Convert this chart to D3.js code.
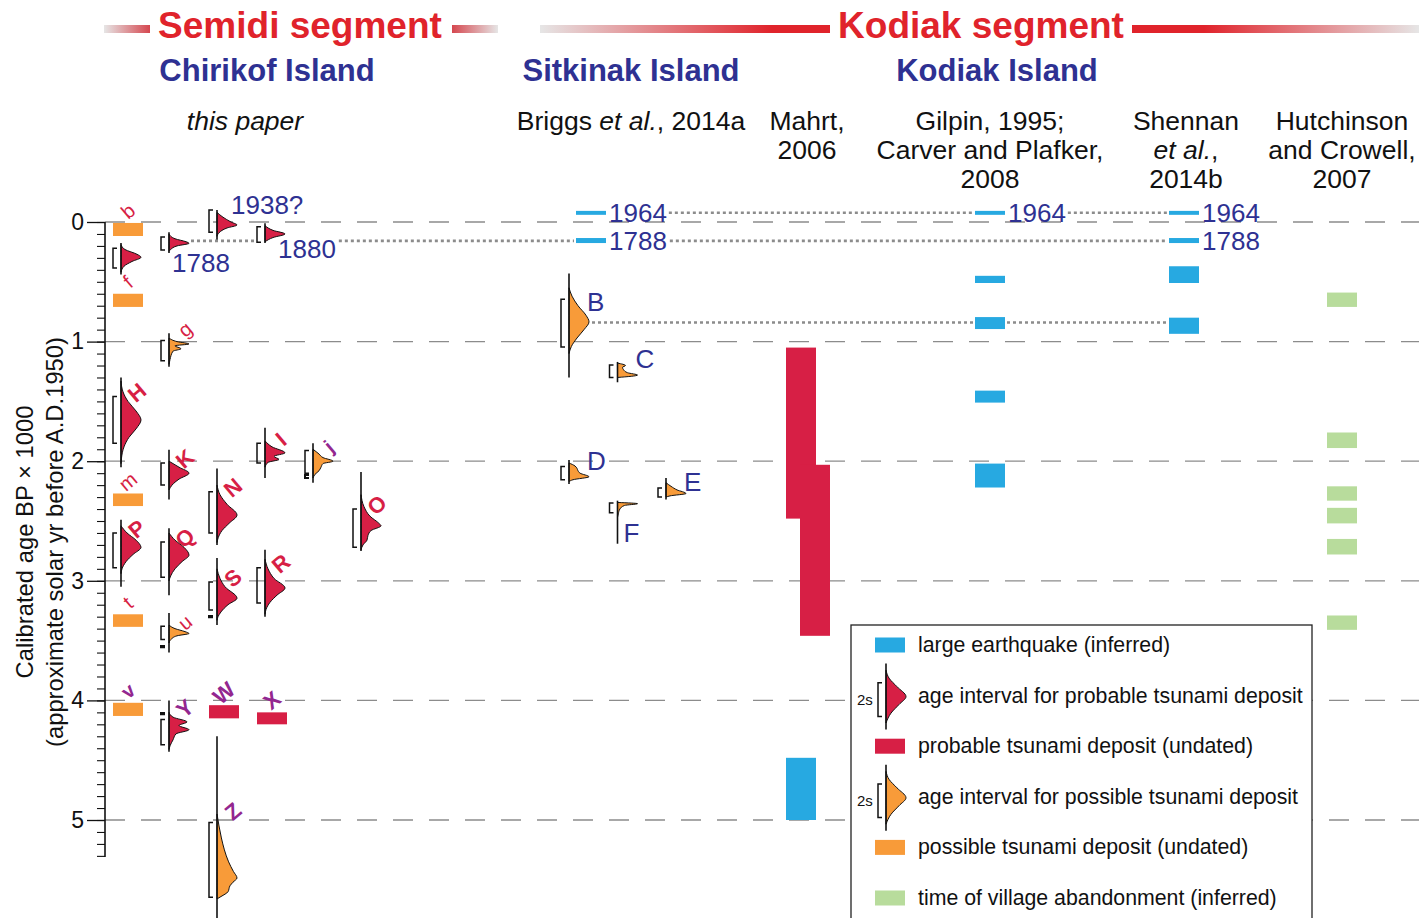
<!DOCTYPE html>
<html>
<head>
<meta charset="utf-8">
<script src="https://cdn.jsdelivr.net/npm/d3@7"></script>
<style>
  body { margin: 0; background: #fff; }
  svg { display: block; font-family: Arial, "Liberation Sans", sans-serif; }
</style>
</head>
<body>
<svg id="chart" width="1419" height="918"></svg>
<script>
// ---- data (ages in cal yr BP / 1000) ----
const ageTicks = [0, 1, 2, 3, 4, 5];
const minorTicks = d3.range(0, 54).map(i => i / 10);
const chirikofLanes = [0, 1, 2, 3, 4, 5];
const sitkinakLanes = [0, 1, 2];
const barColumns = ["briggs", "mahrt1", "mahrt2", "gilpin", "shennan", "hutchinson"];

const segmentNames = ["Semidi segment", "Kodiak segment"];
const islandNames = ["Chirikof Island", "Sitkinak Island", "Kodiak Island"];
const sources = [
  { col: "chirikof", lines: [[["this paper", true]]] },
  { col: "briggs", lines: [[["Briggs ", false], ["et al.", true], [", 2014a", false]]] },
  { col: "mahrt", lines: [[["Mahrt,", false]], [["2006", false]]] },
  { col: "gilpin", lines: [[["Gilpin, 1995;", false]], [["Carver and Plafker,", false]], [["2008", false]]] },
  { col: "shennan", lines: [[["Shennan", false]], [["et al.", true], [",", false]], [["2014b", false]]] },
  { col: "hutchinson", lines: [[["Hutchinson", false]], [["and Crowell,", false]], [["2007", false]]] }
];

// dated deposits, Chirikof Island: 2-sigma range, probability curve [age, relative density]
const chirikofDated = [
  { id: "", kind: "probable", lane: 0, span: [0.175, 0.44], range: [0.22, 0.385],
    pdf: [[0.19, 0], [0.23, 0.2], [0.27, 0.8], [0.295, 1], [0.33, 0.55], [0.37, 0.15], [0.42, 0]] },
  { id: "1788", kind: "probable", lane: 1, span: [0.085, 0.26], range: [0.125, 0.235],
    pdf: [[0.1, 0], [0.14, 0.3], [0.165, 0.85], [0.178, 1], [0.2, 0.4], [0.23, 0.08], [0.245, 0]] },
  { id: "1938?", kind: "probable", lane: 2, span: [-0.1, 0.15], range: [-0.1, 0.085],
    pdf: [[-0.08, 0], [-0.04, 0.3], [0, 0.7], [0.025, 1], [0.05, 0.5], [0.09, 0.1], [0.12, 0]] },
  { id: "1880", kind: "probable", lane: 3, span: [0.01, 0.175], range: [0.04, 0.17],
    pdf: [[0.03, 0], [0.07, 0.4], [0.1, 1], [0.13, 0.4], [0.165, 0]] },
  { id: "g", kind: "possible", lane: 1, span: [0.93, 1.21], range: [0.99, 1.16],
    pdf: [[0.97, 0], [1.0, 0.4], [1.02, 1], [1.035, 0.3], [1.06, 0.6], [1.08, 0.2], [1.15, 0.05], [1.19, 0]] },
  { id: "H", kind: "probable", lane: 0, span: [1.3, 2.05], range: [1.46, 1.85],
    pdf: [[1.33, 0], [1.42, 0.1], [1.5, 0.35], [1.58, 0.75], [1.655, 1], [1.73, 0.75], [1.8, 0.4], [1.88, 0.15], [1.98, 0.02], [2.02, 0]] },
  { id: "K", kind: "probable", lane: 1, span: [1.905, 2.32], range: [2.015, 2.2],
    pdf: [[2.0, 0], [2.05, 0.5], [2.1, 1], [2.15, 0.5], [2.2, 0.15], [2.24, 0]] },
  { id: "I", kind: "probable", lane: 3, span: [1.72, 2.14], range: [1.85, 2.015],
    pdf: [[1.83, 0], [1.88, 0.35], [1.93, 1], [1.96, 0.45], [1.985, 0.7], [2.01, 0.15], [2.05, 0]] },
  { id: "j", kind: "possible", lane: 4, span: [1.85, 2.18], range: [1.91, 2.1], extra: [2.115, 2.14],
    pdf: [[1.9, 0], [1.94, 0.3], [1.97, 0.5], [2.0, 1], [2.02, 0.5], [2.05, 0.4], [2.08, 0.3], [2.11, 0.1], [2.14, 0]] },
  { id: "N", kind: "probable", lane: 2, span: [2.06, 2.7], range: [2.255, 2.6],
    pdf: [[2.2, 0], [2.28, 0.15], [2.36, 0.5], [2.45, 1], [2.52, 0.6], [2.58, 0.25], [2.64, 0.06], [2.68, 0]] },
  { id: "O", kind: "probable", lane: 5, span: [2.09, 2.75], range: [2.4, 2.72],
    pdf: [[2.28, 0], [2.38, 0.15], [2.46, 0.45], [2.52, 0.9], [2.54, 1], [2.58, 0.5], [2.62, 0.35], [2.66, 0.3], [2.7, 0.1], [2.74, 0]] },
  { id: "P", kind: "probable", lane: 0, span: [2.49, 3.05], range: [2.6, 2.89],
    pdf: [[2.54, 0], [2.6, 0.3], [2.66, 0.75], [2.72, 1], [2.78, 0.6], [2.84, 0.25], [2.9, 0.05], [2.94, 0]] },
  { id: "Q", kind: "probable", lane: 1, span: [2.56, 3.12], range: [2.675, 2.97],
    pdf: [[2.6, 0], [2.66, 0.3], [2.72, 0.75], [2.785, 1], [2.84, 0.65], [2.9, 0.3], [2.96, 0.08], [3.0, 0]] },
  { id: "S", kind: "probable", lane: 2, span: [2.81, 3.37], range: [3.01, 3.245], extra: [3.295, 3.305],
    pdf: [[2.9, 0], [2.98, 0.15], [3.05, 0.4], [3.145, 1], [3.2, 0.55], [3.26, 0.2], [3.3, 0.05], [3.33, 0]] },
  { id: "R", kind: "probable", lane: 3, span: [2.74, 3.3], range: [2.89, 3.185],
    pdf: [[2.82, 0], [2.9, 0.15], [2.98, 0.45], [3.06, 1], [3.12, 0.6], [3.18, 0.25], [3.24, 0.05], [3.28, 0]] },
  { id: "u", kind: "possible", lane: 1, span: [3.27, 3.6], range: [3.38, 3.49], extra: [3.545, 3.555],
    pdf: [[3.37, 0], [3.4, 0.3], [3.425, 0.8], [3.44, 1], [3.46, 0.4], [3.49, 0.1], [3.52, 0]] },
  { id: "Y", kind: "probable", lane: 1, span: [4.0, 4.43], range: [4.16, 4.37], extra: [4.105, 4.115],
    pdf: [[4.1, 0], [4.14, 0.2], [4.18, 0.9], [4.21, 0.5], [4.245, 1], [4.28, 0.35], [4.33, 0.2], [4.38, 0.05], [4.41, 0]] },
  { id: "Z", kind: "possible", lane: 2, span: [4.3, 5.85], range: [5.02, 5.645],
    pdf: [[4.95, 0], [5.05, 0.1], [5.15, 0.22], [5.25, 0.37], [5.35, 0.58], [5.43, 0.82], [5.485, 1], [5.52, 0.8], [5.55, 0.65], [5.6, 0.55], [5.64, 0.2], [5.66, 0]] }
];

// undated deposits, Chirikof Island
const chirikofUndated = [
  { id: "b", kind: "possible", lane: 0, age: [0.008, 0.117] },
  { id: "f", kind: "possible", lane: 0, age: [0.6, 0.71] },
  { id: "m", kind: "possible", lane: 0, age: [2.27, 2.375] },
  { id: "t", kind: "possible", lane: 0, age: [3.28, 3.385] },
  { id: "v", kind: "possible", lane: 0, age: [4.02, 4.13] },
  { id: "W", kind: "probable", lane: 2, age: [4.04, 4.15] },
  { id: "X", kind: "probable", lane: 3, age: [4.1, 4.2] }
];

// dated deposits, Sitkinak Island (Briggs et al., 2014a)
const sitkinakDated = [
  { id: "B", lane: 0, span: [0.43, 1.3], range: [0.645, 1.045],
    pdf: [[0.55, 0], [0.62, 0.15], [0.7, 0.45], [0.78, 0.85], [0.835, 1], [0.9, 0.75], [0.97, 0.4], [1.04, 0.12], [1.1, 0]] },
  { id: "C", lane: 1, span: [1.17, 1.34], range: [1.195, 1.3],
    pdf: [[1.18, 0], [1.2, 0.4], [1.215, 0.25], [1.235, 0.3], [1.26, 0.5], [1.28, 1], [1.3, 0]] },
  { id: "D", lane: 0, span: [1.99, 2.19], range: [2.045, 2.155],
    pdf: [[2.015, 0], [2.04, 0.3], [2.06, 0.4], [2.08, 0.45], [2.1, 0.55], [2.13, 1], [2.155, 0.2], [2.17, 0]] },
  { id: "E", lane: 2, span: [2.14, 2.32], range: [2.225, 2.3],
    pdf: [[2.18, 0], [2.21, 0.25], [2.24, 0.55], [2.27, 1], [2.29, 0.2], [2.3, 0]] },
  { id: "F", lane: 1, span: [2.33, 2.69], range: [2.35, 2.43],
    pdf: [[2.345, 0], [2.355, 1], [2.37, 0.35], [2.4, 0.12], [2.44, 0.04], [2.47, 0]] }
];

const earthquakes = [
  { col: "briggs", age: [-0.093, -0.06], year: "1964" },
  { col: "briggs", age: [0.134, 0.176], year: "1788" },
  { col: "gilpin", age: [-0.093, -0.06], year: "1964" },
  { col: "gilpin", age: [0.45, 0.51] },
  { col: "gilpin", age: [0.795, 0.895] },
  { col: "gilpin", age: [1.41, 1.51] },
  { col: "gilpin", age: [2.02, 2.22] },
  { col: "shennan", age: [-0.093, -0.06], year: "1964" },
  { col: "shennan", age: [0.134, 0.176], year: "1788" },
  { col: "shennan", age: [0.37, 0.51] },
  { col: "shennan", age: [0.8, 0.935] },
  { col: "mahrt1", age: [4.48, 5.0] }
];
const kodiakDeposits = [
  { col: "mahrt1", age: [1.05, 2.48] },
  { col: "mahrt2", age: [2.03, 3.46] }
];
const abandonments = [[0.59, 0.71], [1.76, 1.89], [2.21, 2.33], [2.39, 2.52], [2.65, 2.78], [3.29, 3.41]];
const correlationAges = { "1964": -0.077, "1788": 0.158, "B": 0.84 };

const legendItems = [
  { type: "bar", kind: "quake", text: "large earthquake (inferred)" },
  { type: "pdf", kind: "probable", text: "age interval for probable tsunami deposit" },
  { type: "bar", kind: "probable", text: "probable tsunami deposit (undated)" },
  { type: "pdf", kind: "possible", text: "age interval for possible tsunami deposit" },
  { type: "bar", kind: "possible", text: "possible tsunami deposit (undated)" },
  { type: "bar", kind: "village", text: "time of village abandonment (inferred)" }
];
const legendPdf = [[0.1, 0], [0.22, 0.15], [0.35, 0.55], [0.5, 1], [0.62, 0.65], [0.75, 0.25], [0.9, 0]];

// ---- styles & scales ----
const colors = {
  probable: "#d71f45", possible: "#f89b39", quake: "#27a9e1", village: "#b8dc9c",
  navy: "#2e3192", header: "#e0232b", purple: "#93278f", grid: "#8c8c8c"
};
const purpleLabels = new Set(["j", "v", "W", "X", "Y", "Z"]);
const W = 1419, H = 918;
const svg = d3.select("#chart");

const y = d3.scaleLinear().domain([0, 5]).range([222, 820]);
const dens = d3.scaleLinear().domain([0, 1]).range([0, 20]);
const chirikofX = d3.scalePoint().domain(chirikofLanes).range([121, 361]);
const sitkinakX = d3.scalePoint().domain(sitkinakLanes).range([569, 666]);
const barX = d3.scaleOrdinal().domain(barColumns).range([591, 801, 815, 990, 1184, 1342]);
const headerX = { chirikof: 245, briggs: 631, mahrt: 807, gilpin: 990, shennan: 1186, hutchinson: 1342 };
const barW = 30;

// ---- header ----
const defs = svg.append("defs");
function grad(id, stops) {
  const g = defs.append("linearGradient").attr("id", id);
  stops.forEach(([o, c]) => g.append("stop").attr("offset", o).attr("stop-color", c));
}
grad("semL", [["0%", "#e6e6e6"], ["100%", "#d5474f"]]);
grad("semR", [["0%", "#d5474f"], ["100%", "#e6e6e6"]]);
grad("kodL", [["0%", "#e6e6e6"], ["80%", "#e0232b"], ["100%", "#e0232b"]]);
grad("kodR", [["0%", "#e0232b"], ["25%", "#e0232b"], ["100%", "#e6e6e6"]]);

const header = svg.append("g");
[[104, 150, "semL"], [452, 498, "semR"], [540, 830, "kodL"], [1132, 1419, "kodR"]].forEach(([a, b, id]) => {
  header.append("rect").attr("x", a).attr("y", 25).attr("width", b - a).attr("height", 8).attr("fill", `url(#${id})`);
});
[300, 981].forEach((cx, i) => {
  header.append("text").attr("x", cx).attr("y", 38).attr("text-anchor", "middle")
    .attr("font-size", 37).attr("font-weight", "bold").attr("fill", colors.header).text(segmentNames[i]);
});
[267, 631, 997].forEach((cx, i) => {
  header.append("text").attr("x", cx).attr("y", 81).attr("text-anchor", "middle")
    .attr("font-size", 31).attr("font-weight", "bold").attr("fill", colors.navy).text(islandNames[i]);
});
sources.forEach(s => {
  s.lines.forEach((parts, li) => {
    const t = header.append("text").attr("x", headerX[s.col]).attr("y", 130 + li * 29)
      .attr("text-anchor", "middle").attr("font-size", 26.5).attr("fill", "#111");
    parts.forEach(([txt, it]) => t.append("tspan").attr("font-style", it ? "italic" : "normal").text(txt));
  });
});

// ---- grid & axis ----
const grid = svg.append("g");
ageTicks.forEach(t => {
  grid.append("line").attr("x1", 105).attr("x2", W).attr("y1", y(t)).attr("y2", y(t))
    .attr("stroke", colors.grid).attr("stroke-width", 1.3).attr("stroke-dasharray", "20,16");
});
const axisG = svg.append("g").attr("transform", "translate(105,0)");
axisG.call(d3.axisLeft(y).tickValues(ageTicks).tickSize(18).tickSizeOuter(0).tickFormat(d3.format("d")));
axisG.select(".domain").remove();
axisG.selectAll("text").attr("font-size", 23).attr("font-family", "Arial, 'Liberation Sans', sans-serif").attr("fill", "#111").attr("x", -21);
axisG.selectAll("line").attr("stroke", "#111").attr("stroke-width", 1.3);
const minorG = svg.append("g").attr("transform", "translate(105,0)");
minorG.call(d3.axisLeft(y).tickValues(minorTicks).tickSize(8).tickFormat(""));
minorG.select(".domain").remove();
minorG.selectAll("line").attr("stroke", "#111").attr("stroke-width", 1.1);
svg.append("line").attr("x1", 105).attr("x2", 105).attr("y1", y(0)).attr("y2", y(5.31)).attr("stroke", "#111").attr("stroke-width", 1.6);

const yTitle = svg.append("g").attr("font-size", 23.8).attr("fill", "#111");
yTitle.append("text").attr("transform", "translate(33,542) rotate(-90)").attr("text-anchor", "middle").text("Calibrated age BP \u00d7 1000");
yTitle.append("text").attr("transform", "translate(63,542) rotate(-90)").attr("text-anchor", "middle").text("(approximate solar yr before A.D.1950)");

// ---- helpers ----
function drawPdf(g, d, x0, ys, fill) {
  const area = d3.area().curve(d3.curveMonotoneY)
    .y(p => ys(p[0])).x0(x0).x1(p => x0 + dens(p[1]));
  g.append("path").attr("d", area(d.pdf)).attr("fill", fill).attr("stroke", "#111").attr("stroke-width", 1);
  g.append("line").attr("x1", x0).attr("x2", x0).attr("y1", ys(d.span[0])).attr("y2", ys(d.span[1]))
    .attr("stroke", "#111").attr("stroke-width", 1.6);
  const bracket = r => `M${x0 - 4},${ys(r[0])}H${x0 - 8}V${ys(r[1])}H${x0 - 4}`;
  g.append("path").attr("d", bracket(d.range)).attr("fill", "none").attr("stroke", "#111").attr("stroke-width", 1.5);
  if (d.extra) {
    g.append("path").attr("d", bracket(d.extra)).attr("fill", "none").attr("stroke", "#111").attr("stroke-width", 2);
  }
}
function letter(g, txt, cx, cy) {
  const lower = txt === txt.toLowerCase();
  g.append("text").attr("transform", `translate(${cx},${cy}) rotate(-40)`)
    .attr("text-anchor", "middle").attr("dominant-baseline", "central")
    .attr("font-size", lower ? 20 : 22).attr("font-weight", lower && !purpleLabels.has(txt) ? "normal" : "bold")
    .attr("fill", purpleLabels.has(txt) ? colors.purple : colors.probable).text(txt);
}
function yearText(g, txt, x, yBase) {
  return g.append("text").attr("x", x).attr("y", yBase).attr("font-size", 26).attr("fill", colors.navy).text(txt);
}

// ---- Kodiak & Sitkinak bars ----
const bars = svg.append("g");
abandonments.forEach(a => {
  bars.append("rect").attr("x", barX("hutchinson") - barW / 2).attr("y", y(a[0]))
    .attr("width", barW).attr("height", y(a[1]) - y(a[0])).attr("fill", colors.village);
});
kodiakDeposits.forEach(d => {
  bars.append("rect").attr("x", barX(d.col) - barW / 2).attr("y", y(d.age[0]))
    .attr("width", barW).attr("height", y(d.age[1]) - y(d.age[0])).attr("fill", colors.probable);
});
const yearEnds = {};
earthquakes.forEach(d => {
  const x = barX(d.col) - barW / 2;
  bars.append("rect").attr("x", x).attr("y", y(d.age[0]))
    .attr("width", barW).attr("height", y(d.age[1]) - y(d.age[0])).attr("fill", colors.quake);
  if (d.year) {
    const t = yearText(bars, d.year, x + barW + 3, y((d.age[0] + d.age[1]) / 2) + 9);
    yearEnds[d.col + d.year] = x + barW + 3 + t.node().getComputedTextLength();
  }
});

// ---- Chirikof ----
const chir = svg.append("g");
chirikofUndated.forEach(d => {
  const x0 = chirikofX(d.lane);
  chir.append("rect").attr("x", x0 - 8).attr("y", y(d.age[0])).attr("width", barW)
    .attr("height", y(d.age[1]) - y(d.age[0])).attr("fill", colors[d.kind]);
  letter(chir, d.id, x0 + 7, y(d.age[0]) - 12);
});
const yearPlacement = { "1788": [3, "bottom", 22], "1938?": [14, "top", 4], "1880": [13, "bottom", 16] };
const chirYearEnds = {};
chirikofDated.forEach(d => {
  const x0 = chirikofX(d.lane);
  drawPdf(chir, d, x0, y, colors[d.kind]);
  if (yearPlacement[d.id]) {
    const [dx, edge, dy] = yearPlacement[d.id];
    const t = yearText(chir, d.id, x0 + dx, y(edge === "top" ? d.range[0] : d.range[1]) + dy);
    chirYearEnds[d.id] = x0 + dx + t.node().getComputedTextLength();
  } else if (d.id) {
    letter(chir, d.id, x0 + 16, y(d.range[0]) - (d.id === "Z" || d.id === "g" || d.id === "Y" ? 11 : 4));
  }
});

// ---- Sitkinak ----
const sit = svg.append("g");
sitkinakDated.forEach(d => {
  const x0 = sitkinakX(d.lane);
  drawPdf(sit, d, x0, y, colors.possible);
  const below = d.id === "F";
  sit.append("text").attr("x", below ? x0 + 6 : x0 + 18)
    .attr("y", below ? y(d.range[1]) + 29 : y(d.range[0]) + (d.id === "B" ? 12 : 3))
    .attr("font-size", 26).attr("fill", colors.navy).text(d.id);
});

// ---- correlation lines ----
const corr = svg.append("g").attr("stroke", "#8c8c8c").attr("stroke-width", 2.6).attr("stroke-dasharray", "3,3");
function dotted(x1, x2, age) {
  corr.append("line").attr("x1", x1).attr("x2", x2).attr("y1", y(age)).attr("y2", y(age));
}
const left = c => barX(c) - barW / 2, right = c => barX(c) + barW / 2;
dotted(yearEnds["briggs1964"] + 2, left("gilpin") - 2, correlationAges["1964"]);
dotted(yearEnds["gilpin1964"] + 2, left("shennan") - 2, correlationAges["1964"]);
const c1788 = chirikofDated.find(d => d.id === "1788"), c1880 = chirikofDated.find(d => d.id === "1880");
dotted(chirikofX(c1788.lane) + dens(1) + 2, chirikofX(c1880.lane) - 10, correlationAges["1788"]);
dotted(chirYearEnds["1880"] + 3, left("briggs") - 2, correlationAges["1788"]);
dotted(yearEnds["briggs1788"] + 3, left("shennan") - 2, correlationAges["1788"]);
const sB = sitkinakDated.find(d => d.id === "B");
dotted(sitkinakX(sB.lane) + dens(1) + 3, left("gilpin") - 2, correlationAges["B"]);
dotted(right("gilpin") + 2, left("shennan") - 2, correlationAges["B"]);

// ---- legend ----
const lg = svg.append("g");
lg.append("rect").attr("x", 851).attr("y", 625).attr("width", 461).attr("height", 300)
  .attr("fill", "#fff").attr("stroke", "#222").attr("stroke-width", 1.3);
legendItems.forEach((it, i) => {
  const cy = 645 + i * 50.6;
  if (it.type === "bar") {
    lg.append("rect").attr("x", 875).attr("y", cy - 7.5).attr("width", barW).attr("height", 15).attr("fill", colors[it.kind]);
  } else {
    const ly = d3.scaleLinear().domain([0, 1]).range([cy - 32, cy + 34]);
    drawPdf(lg, { span: [0, 1], range: [0.29, 0.8], pdf: legendPdf }, 886, ly, colors[it.kind]);
    lg.append("text").attr("x", 857).attr("y", cy + 9).attr("font-size", 15).attr("fill", "#111").text("2s");
  }
  lg.append("text").attr("x", 918).attr("y", cy + 7).attr("font-size", 21.3).attr("fill", "#111").text(it.text);
});
</script>
</body>
</html>
